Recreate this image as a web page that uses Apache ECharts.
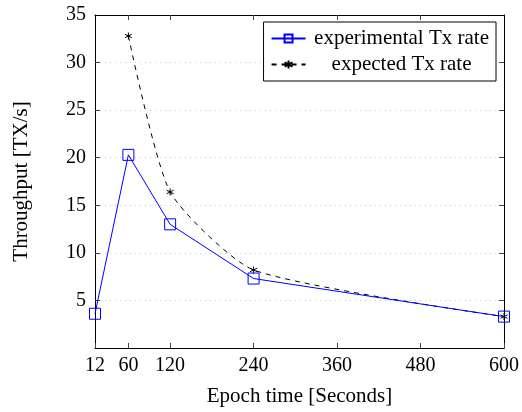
<!DOCTYPE html>
<html>
<head>
<meta charset="utf-8">
<script src="https://cdn.jsdelivr.net/npm/echarts@6/dist/echarts.min.js"></script>
<style>html,body{margin:0;padding:0;background:#fff}#c{width:522px;height:412px}</style>
</head>
<body>
<div id="c"></div>
<script>
const xTicks = [12, 60, 120, 240, 360, 480, 600];
const expX = [12, 60, 120, 240, 600];
const expY = [3.6, 20.3, 13.0, 7.3, 3.3];
const predX = [60, 120, 240, 600];
const predY = [32.8, 16.4, 8.2, 3.3];
const yTicks = [5, 10, 15, 20, 25, 30, 35];

const font = 'Liberation Serif';
const fs = 20;
const fsT = 21;
const chart = echarts.init(document.getElementById('c'), null, {renderer: 'canvas'});
const tickStyle = {color: '#444', width: 1};
const starPath = 'path://M0,-5L0,5M-4.3,-2.5L4.3,2.5M-4.3,2.5L4.3,-2.5';

chart.setOption({
  animation: false,
  backgroundColor: '#fff',
  grid: {left: 95, right: 17, top: 15, bottom: 59, containLabel: false},
  legend: {
    right: 26, top: 22,
    orient: 'vertical',
    itemGap: 5,
    padding: [6, 7, 6, 7],
    borderColor: '#000', borderWidth: 1,
    borderRadius: 0,
    backgroundColor: '#fff',
    itemWidth: 34, itemHeight: 10,
    formatter: n => '{a|' + n + '}',
    textStyle: {fontFamily: font, fontSize: fsT, color: '#000',
      rich: {a: {fontFamily: font, fontSize: fsT, color: '#000', width: 182, align: 'center'}}},
    data: [
      {name: 'experimental Tx rate'},
      {name: 'expected Tx rate'}
    ]
  },
  xAxis: [{
    type: 'value', min: 12, max: 600,
    name: 'Epoch time [Seconds]', nameLocation: 'middle', nameGap: 38,
    nameTextStyle: {fontFamily: font, fontSize: fsT, color: '#000'},
    axisLine: {show: true, onZero: false, lineStyle: {color: '#000', width: 1}},
    axisTick: {show: true, inside: true, length: 5, lineStyle: tickStyle, customValues: xTicks},
    axisLabel: {fontFamily: font, fontSize: fs, color: '#000', margin: 8, customValues: xTicks},
    splitLine: {show: false}
  }, {
    type: 'value', min: 12, max: 600, position: 'top',
    axisLine: {show: true, onZero: false, lineStyle: {color: '#000', width: 1}},
    axisTick: {show: true, inside: true, length: 5, lineStyle: tickStyle, customValues: xTicks.slice(1, -1)},
    axisLabel: {show: false},
    splitLine: {show: false}
  }],
  yAxis: [{
    type: 'value', min: 0, max: 35, interval: 5,
    name: 'Throughput [TX/s]', nameLocation: 'middle', nameGap: 63,
    nameTextStyle: {fontFamily: font, fontSize: fsT, color: '#000'},
    axisLine: {show: true, onZero: false, lineStyle: {color: '#000', width: 1}},
    axisTick: {show: true, inside: true, length: 5, lineStyle: tickStyle, customValues: yTicks.slice(0, -1)},
    axisLabel: {fontFamily: font, fontSize: fs, color: '#000', margin: 9, customValues: yTicks},
    splitLine: {show: true, lineStyle: {color: '#c8c8c8', type: [1, 4], width: 1}}
  }, {
    type: 'value', min: 0, max: 35, interval: 5, position: 'right',
    axisLine: {show: true, onZero: false, lineStyle: {color: '#000', width: 1}},
    axisTick: {show: true, inside: true, length: 5, lineStyle: tickStyle, customValues: yTicks.slice(0, -1)},
    axisLabel: {show: false},
    splitLine: {show: false}
  }],
  series: [{
    name: 'expected Tx rate',
    type: 'line',
    smooth: 0.2,
    data: predX.map((x, i) => [x, predY[i]]),
    symbol: starPath, symbolSize: 7,
    itemStyle: {color: '#000', borderColor: '#000', borderWidth: 1},
    lineStyle: {color: '#000', width: 1, type: [5, 5]},
    z: 2
  }, {
    name: 'experimental Tx rate',
    type: 'line',
    data: expX.map((x, i) => [x, expY[i]]),
    symbol: 'rect', symbolSize: 11,
    itemStyle: {color: 'rgba(255,255,255,0)', borderColor: '#0000ff', borderWidth: 1},
    lineStyle: {color: '#0000ff', width: 1},
    z: 3
  }]
});
</script>
</body>
</html>
